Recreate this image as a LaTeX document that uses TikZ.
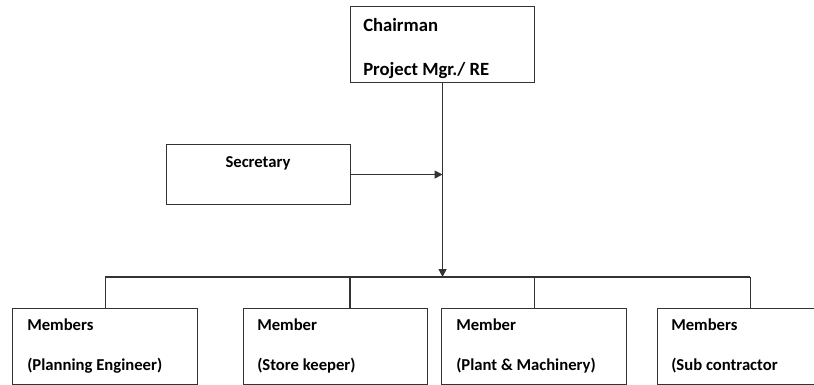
\documentclass[tikz,border=0pt]{standalone}
\usepackage{fontspec}
\setmainfont{Carlito}
\usetikzlibrary{arrows.meta,calc}

\tikzset{
  box/.style={draw=black!80, line width=0.8pt, rectangle, anchor=north west, inner sep=0pt},
  lbl/.style={anchor=base west, inner sep=0pt, font=\bfseries\fontsize{12.5pt}{15pt}\selectfont},
  toplbl/.style={lbl, font=\bfseries\fontsize{14pt}{17pt}\selectfont},
  link/.style={draw=black!80, line width=0.8pt},
  arr/.style={link, -{Triangle[length=6pt,width=6pt]}}
}

\begin{document}
\begin{tikzpicture}[x=0.75pt,y=-0.75pt]
\useasboundingbox (0,0) rectangle (814,385);
\clip (0,0) rectangle (814,385);

% chairman
\node[box, minimum width=184*0.75pt, minimum height=76*0.75pt] (chair) at (350,6) {};
\node[toplbl] (chairA) at (363,32) {Chairman};
\node[toplbl] (chairB) at (363,76) {Project Mgr./ RE};

% secretary
\node[box, minimum width=184*0.75pt, minimum height=60*0.75pt] (sec) at (166,144) {};
\node[lbl, anchor=base] (secA) at (258,167) {Secretary};

% members
\node[box, minimum width=185*0.75pt, minimum height=76*0.75pt] (m1) at (12,308) {};
\node[box, minimum width=184*0.75pt, minimum height=76*0.75pt] (m2) at (243,308) {};
\node[box, minimum width=185*0.75pt, minimum height=76*0.75pt] (m3) at (441,308) {};
\node[box, minimum width=185*0.75pt, minimum height=76*0.75pt] (m4) at (657,308) {};

\node[lbl] (m1a) at (27,330) {Members};
\node[lbl] (m1b) at (27,370) {(Planning Engineer)};
\node[lbl] (m2a) at (257,330) {Member};
\node[lbl] (m2b) at (257,370) {(Store keeper)};
\node[lbl] (m3a) at (456,330) {Member};
\node[lbl] (m3b) at (456,370) {(Plant \& Machinery)};
\node[lbl] (m4a) at (671,330) {Members};
\node[lbl] (m4b) at (671,370) {(Sub contractor};

% connectors
\coordinate (bar) at (chair.south |- 0,277);
\coordinate (join) at (chair.south |- sec.east);
\coordinate (d2) at ($(m2.north west)+(107,0)$);
\draw[arr] (chair.south) -- (bar);
\draw[arr] (sec.east) -- (join);
\draw[link] (m1.north |- bar) -- (m4.north |- bar);
\draw[link] (m1.north |- bar) -- (m1.north);
\draw[link] (d2 |- bar) -- (d2);
\draw[link] (m3.north |- bar) -- (m3.north);
\draw[link] (m4.north |- bar) -- (m4.north);
\end{tikzpicture}
\end{document}
